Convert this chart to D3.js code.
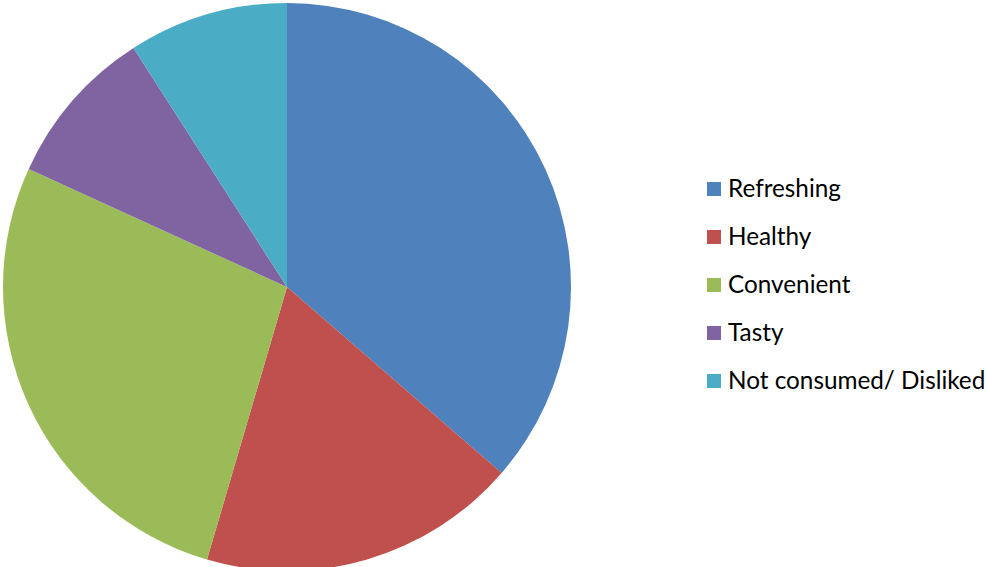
<!DOCTYPE html>
<html>
<head>
<meta charset="utf-8">
<script src="https://cdn.jsdelivr.net/npm/d3@7"></script>
<style>
  html, body { margin: 0; padding: 0; background: #ffffff; }
  svg { display: block; }
</style>
</head>
<body>
<svg id="chart" width="988" height="567"></svg>
<script>
// Reasons given, with response counts
const categories = ["Refreshing", "Healthy", "Convenient", "Tasty", "Not consumed/ Disliked"];
const values = [40, 20, 30, 10, 10];
const colors = ["#4F81BD", "#C0504D", "#9BBB59", "#8064A2", "#4BACC6"];

const svg = d3.select("#chart");
const cx = 287, cy = 287, radius = 284;

const data = categories.map((c, i) => ({ name: c, value: values[i] }));

const pie = d3.pie().value(d => d.value).sort(null);
const arc = d3.arc().innerRadius(0).outerRadius(radius);
const color = d3.scaleOrdinal().domain(categories).range(colors);

svg.append("g")
  .attr("transform", `translate(${cx},${cy})`)
  .selectAll("path")
  .data(pie(data))
  .join("path")
  .attr("d", arc)
  .attr("fill", d => color(d.data.name));

// Legend
const legendY = d3.scalePoint().domain(categories).range([189, 381]);
const legend = svg.append("g");
const item = legend.selectAll("g")
  .data(categories)
  .join("g")
  .attr("transform", d => `translate(707,${legendY(d)})`);

item.append("rect")
  .attr("x", 0).attr("y", -7)
  .attr("width", 14).attr("height", 14)
  .attr("fill", d => color(d));

item.append("text")
  .attr("x", 21).attr("y", 0)
  .attr("dy", "0.33em")
  .attr("font-family", "Lato, 'Open Sans', sans-serif")
  .attr("font-size", 24.3)
  .attr("fill", "#000")
  .text(d => d);
</script>
</body>
</html>
